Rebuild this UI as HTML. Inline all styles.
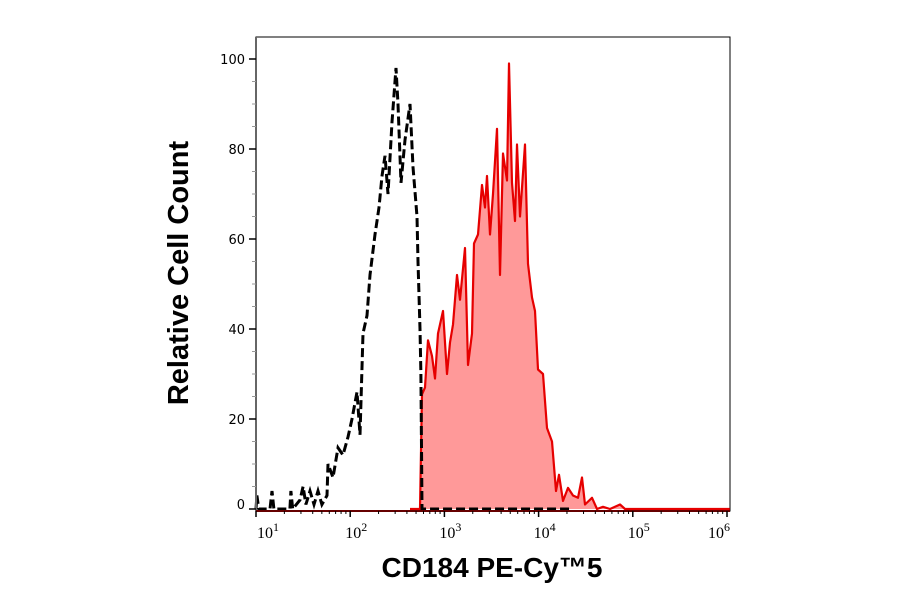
<!DOCTYPE html>
<html><head><meta charset="utf-8"><style>
body{margin:0;background:#fff;}
svg{display:block;}
</style></head><body>
<svg id="chart" width="900" height="594" xmlns="http://www.w3.org/2000/svg"></svg>
<script>
const redLogX=[2.635,2.741,2.762,2.794,2.826,2.868,2.900,2.932,2.985,3.028,3.059,3.091,3.134,3.166,3.219,3.251,3.293,3.314,3.357,3.399,3.431,3.452,3.484,3.516,3.558,3.590,3.622,3.665,3.686,3.718,3.749,3.771,3.803,3.856,3.887,3.930,3.962,3.994,4.047,4.089,4.142,4.185,4.217,4.259,4.312,4.365,4.418,4.461,4.493,4.567,4.620,4.684,4.758,4.864,4.917,6.03];
const redCount=[0,0,25.5,27,37.5,34,29,39,44,30,37,41,52,46.5,58,32,39,59,61,72,67,74,61,70,84.5,52,79,73,99,72.5,64,81,65,81,54.5,47,44,31,30,18,15,4,7.6,1.8,4.7,3,2.5,7,1,2.5,0,0.5,0,1,0,0];
const blackLogX=[1.0,1.01,1.03,1.149,1.17,1.19,1.36,1.37,1.39,1.467,1.5,1.53,1.573,1.616,1.658,1.70,1.754,1.764,1.817,1.87,1.924,1.977,2.019,2.072,2.104,2.136,2.178,2.21,2.263,2.306,2.338,2.369,2.401,2.444,2.486,2.507,2.539,2.582,2.635,2.667,2.709,2.72,2.741,2.751,2.762,4.333];
const blackCount=[0,3,0,0,4,0,0,4,0,2,5,1,4,1,4,1,3,10,7,13.6,12,16,20,26,16.5,39,43,52,61,67,74,78.5,70,86,98,90,72.5,82,90,76,65,55,40,30,0,0];
const yTicks=[0,20,40,60,80,100];
const xDecades=[1,2,3,4,5,6];

const NS='http://www.w3.org/2000/svg';
const svg=document.getElementById('chart');
const L=256,R=730,T=37,B=511;
const x=v=>L+(v-1)*94.2;
const y=v=>509-v*4.5;
function el(tag,attrs,parent){const e=document.createElementNS(NS,tag);for(const k in attrs)e.setAttribute(k,attrs[k]);(parent||svg).appendChild(e);return e;}

const frame=el('rect',{x:L,y:T,width:R-L,height:B-T,fill:'none',stroke:'#000','stroke-width':1});



let d='M'+x(redLogX[0])+','+y(0);
redLogX.forEach((v,i)=>{d+=' L'+x(v).toFixed(1)+','+y(redCount[i]).toFixed(1);});
const redFill=el('path',{d:d+' L'+x(redLogX[redLogX.length-1])+','+y(0)+' Z',fill:'#ff9999',stroke:'none'});


let dl='';
redLogX.forEach((v,i)=>{dl+=(i?' L':'M')+x(v).toFixed(1)+','+y(redCount[i]).toFixed(1);});
const redLine=el('path',{d:dl,fill:'none',stroke:'#e60000','stroke-width':2.2,'stroke-linejoin':'round'});



let db='';
blackLogX.forEach((v,i)=>{db+=(i?' L':'M')+x(v).toFixed(1)+','+y(blackCount[i]).toFixed(1);});
const blackLine=el('path',{d:db,fill:'none',stroke:'#000','stroke-width':3,'stroke-dasharray':'9,4'});



const la=el('line',{x1:L,y1:T,x2:L,y2:B,stroke:'#666','stroke-width':2});


const ba=el('line',{x1:L,y1:B,x2:R,y2:B,stroke:'#600','stroke-width':2});



for(let v=0;v<=100;v+=5){
  const major=v%20===0;
  const t=el('line',{x1:L-(major?7:4),y1:y(v),x2:L,y2:y(v),stroke:major?'#000':'#999','stroke-width':major?1.5:1});
  
  
}
yTicks.forEach(v=>{
  const t=el('text',{x:L-11,y:y(v)+(v===0?0:5),'text-anchor':'end','font-family':'DejaVu Sans, sans-serif','font-size':13,fill:'#000'});
  t.textContent=v;
  
  
});

xDecades.forEach(dv=>{
  const t=el('line',{x1:x(dv),y1:B,x2:x(dv),y2:B+6,stroke:'#000','stroke-width':1.5});
  
  
  if(dv<6){for(let k=2;k<10;k++){
    const xv=x(dv+Math.log10(k));
    const m=el('line',{x1:xv,y1:B,x2:xv,y2:B+3,stroke:'#000','stroke-width':1});
    
    
  }}
  const g=el('text',{x:x(dv)+(dv===1?12:(dv===6?-8:6)),y:B+27,'text-anchor':'middle','font-family':'Liberation Serif, serif','font-size':16,fill:'#000'});
  
  
  const a=el('tspan',{},g);a.textContent='10';
  const b=el('tspan',{dy:-7,'font-size':12},g);b.textContent=dv;
});

const yt=el('text',{x:0,y:0,transform:'translate(188,273) rotate(-90)','text-anchor':'middle','font-family':'Liberation Sans, sans-serif','font-weight':'bold','font-size':29,fill:'#000'});
yt.textContent='Relative Cell Count';


const xt=el('text',{x:492,y:577,'text-anchor':'middle','font-family':'Liberation Sans, sans-serif','font-weight':'bold','font-size':28,fill:'#000'});
xt.textContent='CD184 PE-Cy™5';


</script>
</body></html>
